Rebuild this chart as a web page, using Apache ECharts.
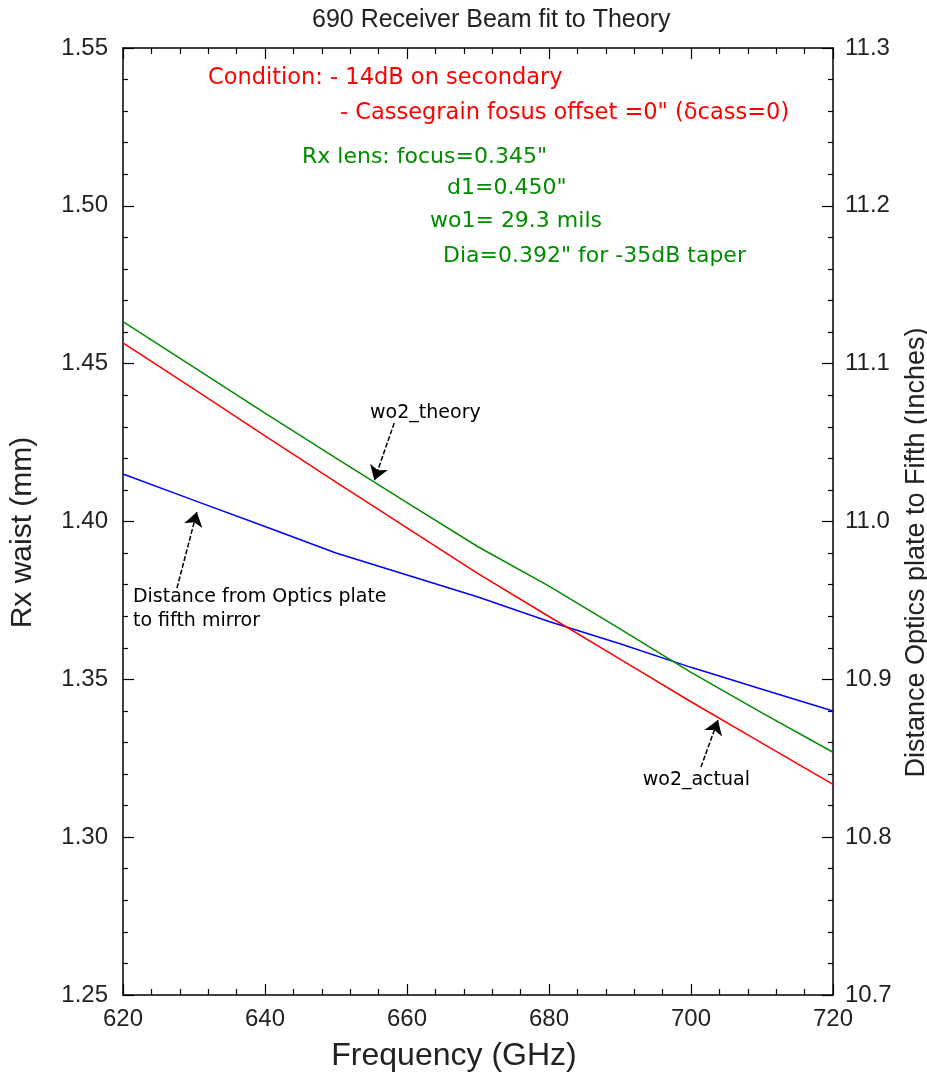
<!DOCTYPE html>
<html>
<head>
<meta charset="utf-8">
<script src="https://cdn.jsdelivr.net/npm/echarts@6/dist/echarts.min.js"></script>
<style>
  html, body { margin: 0; padding: 0; background: #fff; overflow: hidden; }
  #chart { width: 927px; height: 1078px; }
</style>
</head>
<body>
<div id="chart"></div>
<script>
// Frequency sweep (GHz)
const freqGHz = [620, 630, 640, 650, 660, 670, 680, 690, 700, 710, 720];
// Receiver waist wo2, theory and actual (mm)
const wo2Theory = [1.4633, 1.4488, 1.4343, 1.4201, 1.4060, 1.3920, 1.3795, 1.3660, 1.3522, 1.3394, 1.3269];
const wo2Actual = [1.4566, 1.4419, 1.4271, 1.4125, 1.3980, 1.3835, 1.3699, 1.3564, 1.3429, 1.3298, 1.3167];
// Distance optics plate to fifth mirror (inches)
const plateToFifth = [11.0301, 11.0134, 10.9968, 10.9800, 10.9661, 10.9522, 10.9366, 10.9225, 10.9076, 10.8937, 10.8799];

const xTicks = [620, 640, 660, 680, 700, 720];
const leftTicks = [1.25, 1.30, 1.35, 1.40, 1.45, 1.50, 1.55];
const rightTicks = [10.7, 10.8, 10.9, 11.0, 11.1, 11.2, 11.3];

const conditionLines = [
  'Condition: - 14dB on secondary',
  '- Cassegrain fosus offset =0" (\u03B4cass=0)'
];
const lensLines = [
  'Rx lens: focus=0.345"',
  'd1=0.450"',
  'wo1= 29.3 mils',
  'Dia=0.392" for -35dB taper'
];

// Callouts: text anchor and arrow (tail -> head) in frequency / waist units
const callouts = [
  { text: 'wo2_theory', at: [654.8, 1.4347], tail: [658.2, 1.4312], head: [655.4, 1.4131] },
  { text: 'Distance from Optics plate\nto fifth mirror', at: [621.4, 1.3764], tail: [627.6, 1.3789], head: [630.4, 1.4030] },
  { text: 'wo2_actual', at: [693.2, 1.3184], tail: [701.4, 1.3222], head: [703.8, 1.3371] }
];

const RED = '#ff0000', GREEN = '#008c00', BLUE = '#0000ff';
const FONT = '"Liberation Sans", Arial, sans-serif';
const WIDE = '"DejaVu Sans", Verdana, sans-serif';

const pair = (xs, ys) => xs.map((x, i) => [x, ys[i]]);

const frame = { show: true, lineStyle: { color: '#000', width: 1.5 } };
const tickStyle = { color: '#000', width: 1.2 };
const tickFont = { fontFamily: FONT, fontSize: 24, color: '#222' };

const chart = echarts.init(document.getElementById('chart'), null, { renderer: 'canvas', width: 927, height: 1078 });

chart.setOption({
  animation: false,
  backgroundColor: '#fff',
  title: {
    text: '690 Receiver Beam fit to Theory',
    left: 307, top: 3,
    textStyle: { fontFamily: FONT, fontSize: 25, fontWeight: 'normal', color: '#222' }
  },
  grid: { left: 123, right: 94, top: 48, bottom: 83, containLabel: false, outerBoundsMode: 'none' },
  xAxis: [
    {
      type: 'value', min: 620, max: 720, interval: 20, position: 'bottom',
      axisLine: frame,
      axisTick: { show: true, inside: true, length: 11, lineStyle: tickStyle },
      minorTick: { show: true, splitNumber: 5, length: 6, lineStyle: tickStyle },
      splitLine: { show: false },
      axisLabel: Object.assign({ margin: 12, customValues: xTicks, formatter: v => String(v) }, tickFont),
      name: 'Frequency (GHz)', nameLocation: 'middle', nameGap: 45,
      nameTextStyle: { fontFamily: FONT, fontSize: 32, color: '#222', padding: [0, 48, 0, 0] }
    },
    {
      type: 'value', min: 620, max: 720, interval: 20, position: 'top',
      axisLine: frame,
      axisTick: { show: true, inside: true, length: 11, lineStyle: tickStyle },
      minorTick: { show: true, splitNumber: 5, length: 6, lineStyle: tickStyle },
      splitLine: { show: false },
      axisLabel: { show: false }
    }
  ],
  yAxis: [
    {
      type: 'value', min: 1.25, max: 1.55, interval: 0.05, position: 'left',
      axisLine: frame,
      axisTick: { show: true, inside: true, length: 11, lineStyle: tickStyle },
      minorTick: { show: true, splitNumber: 5, length: 5, lineStyle: tickStyle },
      splitLine: { show: false },
      axisLabel: Object.assign({ margin: 15, customValues: leftTicks, formatter: v => v.toFixed(2) }, tickFont),
      name: 'Rx waist (mm)', nameLocation: 'middle', nameRotate: 90, nameGap: 85,
      nameTextStyle: { fontFamily: FONT, fontSize: 30, color: '#222', padding: [0, 22, 0, 0] }
    },
    {
      type: 'value', min: 10.7, max: 11.3, interval: 0.1, position: 'right',
      axisLine: frame,
      axisTick: { show: true, inside: true, length: 11, lineStyle: tickStyle },
      minorTick: { show: true, splitNumber: 5, length: 5, lineStyle: tickStyle },
      splitLine: { show: false },
      axisLabel: Object.assign({ margin: 12, customValues: rightTicks, formatter: v => v.toFixed(1) }, tickFont),
      name: 'Distance Optics plate to Fifth (Inches)', nameLocation: 'middle', nameRotate: 90, nameGap: 63,
      nameTextStyle: { fontFamily: FONT, fontSize: 27, color: '#222', padding: [0, 62, 0, 0] }
    }
  ],
  series: [
    {
      name: 'wo2_theory', type: 'line', xAxisIndex: 0, yAxisIndex: 0,
      data: pair(freqGHz, wo2Theory), showSymbol: false, silent: true,
      lineStyle: { color: GREEN, width: 1.5 }, z: 3
    },
    {
      name: 'wo2_actual', type: 'line', xAxisIndex: 0, yAxisIndex: 0,
      data: pair(freqGHz, wo2Actual), showSymbol: false, silent: true,
      lineStyle: { color: RED, width: 1.5 }, z: 4,
      markLine: {
        silent: true, animation: false,
        symbol: ['none', 'arrow'], symbolSize: 14,
        label: { show: false },
        lineStyle: { color: '#000', width: 1.5, type: [5, 2] },
        emphasis: { disabled: true },
        data: callouts.map(c => [{ coord: c.tail }, { coord: c.head }])
      }
    },
    {
      name: 'plate_to_fifth', type: 'line', xAxisIndex: 0, yAxisIndex: 1,
      data: pair(freqGHz, plateToFifth), showSymbol: false, silent: true,
      lineStyle: { color: BLUE, width: 1.5 }, z: 2
    }
  ]
});

// Annotation text: condition block in pixel layout, callout labels anchored to data units
const txt = (x, y, s, color, font, size, extra) => ({
  type: 'text', x, y, silent: true, z: 100,
  style: Object.assign({ text: s, fill: color, font: size + 'px ' + font,
    textAlign: 'left', textVerticalAlign: 'middle' }, extra || {})
});

const condX = [208, 340], condY = [78, 113];
const lensX = [302, 447, 430, 443], lensY = [157, 188, 221, 256];

const graphics = [];
conditionLines.forEach((s, i) => graphics.push(txt(condX[i], condY[i], s, RED, WIDE, 22.5)));
lensLines.forEach((s, i) => graphics.push(txt(lensX[i], lensY[i], s, GREEN, WIDE, 22)));
callouts.forEach(c => {
  const p = chart.convertToPixel({ xAxisIndex: 0, yAxisIndex: 0 }, c.at);
  graphics.push(txt(p[0], p[1] - 11, c.text, '#000', WIDE, 19, { lineHeight: 24, textVerticalAlign: 'top' }));
});
chart.setOption({ graphic: graphics });
</script>
</body>
</html>
